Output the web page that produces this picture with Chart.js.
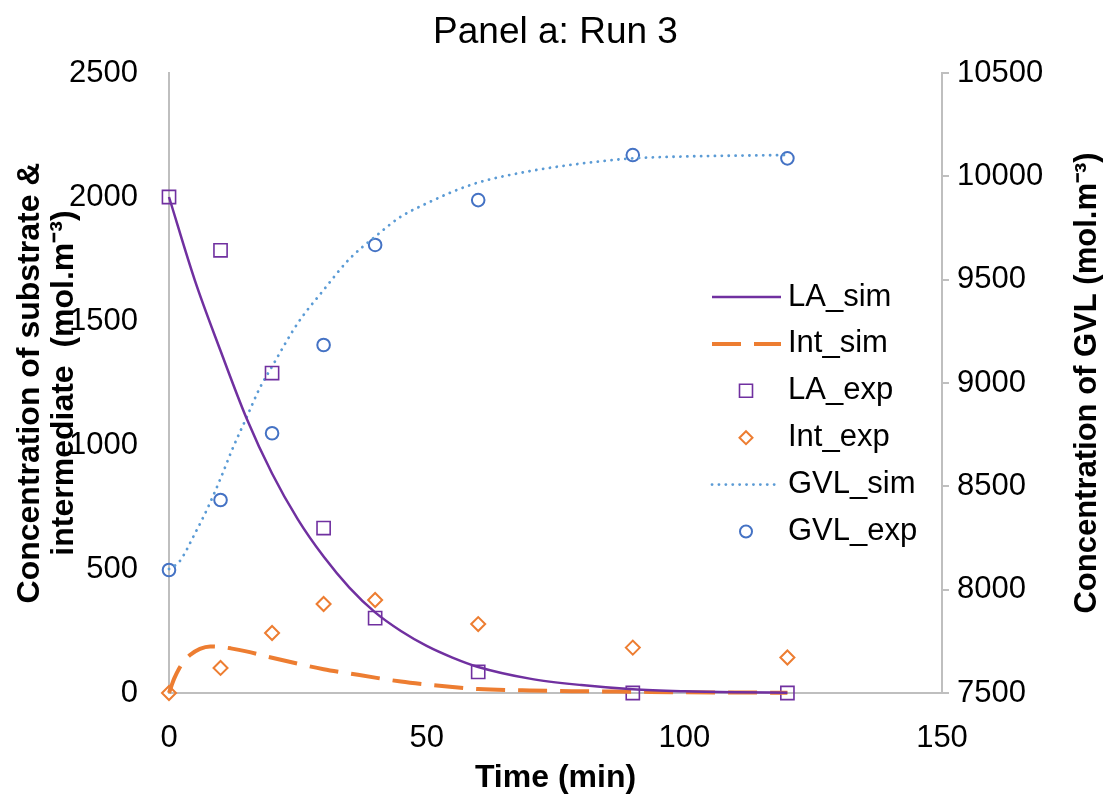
<!DOCTYPE html>
<html>
<head>
<meta charset="utf-8">
<script src="https://cdn.jsdelivr.net/npm/chart.js@4.4.1/dist/chart.umd.min.js"></script>
<style>
html,body{margin:0;padding:0;background:#fff;}
#wrap{width:1104px;height:797px;position:relative;}
</style>
</head>
<body>
<div id="wrap"><canvas id="c"></canvas></div>
<script>
// ---- data ----
const expTimes = [0, 10, 20, 30, 40, 60, 90, 120];
const laExp  = [2000, 1785, 1290, 665, 302, 85, 0, 0];
const intExp = [0, 101, 242, 359, 375, 278, 183, 143];
const gvlExp = [8095, 8434, 8757, 9184, 9668, 9885, 10103, 10087];

const laSimTimes = [0, 5, 10, 15, 20, 25, 30, 35, 40, 45, 50, 55, 60, 70, 80, 90, 100, 110, 120];
const laSim      = [2000, 1665, 1380, 1110, 885, 700, 550, 425, 325, 250, 190, 143, 105, 58, 32, 15, 7, 3, 1];

const intSimTimes = [0, 0.5, 1, 2, 3, 4, 6, 8, 10, 12, 15, 20, 25, 30, 35, 40, 45, 50, 55, 60, 70, 80, 90, 100, 110, 120];
const intSim      = [0, 30, 58, 100, 130, 152, 178, 188, 186, 180, 168, 142, 118, 96, 79, 62, 46, 34, 24, 16, 10, 7, 5, 3, 2, 1];

const gvlSimTimes = [0, 2, 5, 7.5, 10, 12.5, 15, 17.5, 20, 25, 30, 35, 40, 45, 50, 55, 60, 70, 80, 90, 100, 110, 120];
const gvlSim      = [8100, 8135, 8270, 8395, 8538, 8692, 8830, 8970, 9080, 9290, 9450, 9600, 9708, 9805, 9869, 9925, 9970, 10025, 10062, 10087, 10096, 10100, 10103];

const xTicks = [0, 50, 100, 150];
const yLeftTicks = [0, 500, 1000, 1500, 2000, 2500];
const yRightTicks = [7500, 8000, 8500, 9000, 9500, 10000, 10500];

const seriesNames = ['LA_sim', 'Int_sim', 'LA_exp', 'Int_exp', 'GVL_sim', 'GVL_exp'];
const chartTitle = 'Panel a: Run 3';
const xTitle = 'Time (min)';
const yLeftTitle = ['Concentration of substrate &', 'intermediate  (mol.m\u207B\u00B3)'];
const yRightTitle = 'Concentration of GVL (mol.m\u207B\u00B3)';

// ---- helpers ----
const pts = (xs, ys) => xs.map((x, i) => ({x: x, y: ys[i]}));
const plain = v => String(v);
const FONT = "'Liberation Sans', Arial, Helvetica, sans-serif";
const AXIS = '#BFBFBF';
const PURPLE = '#7030A0', ORANGE = '#ED7D31', LBLUE = '#5B9BD5', BLUE = '#4472C4';

Chart.defaults.font.family = FONT;
Chart.defaults.color = '#000';

const legendPlugin = {
  id: 'customLegend',
  afterDraw(chart) {
    const ctx = chart.ctx, ca = chart.chartArea;
    const x0 = ca.left + 543, y0 = ca.top + 224, rowH = 46.9, lineLen = 69, textX = ca.left + 619;
    ctx.save();
    chart.data.datasets.forEach((ds, i) => {
      const y = y0 + i * rowH;
      if (ds.showLine !== false) {
        ctx.beginPath();
        ctx.setLineDash(ds.borderDash || []);
        ctx.lineCap = ds.borderCapStyle || 'butt';
        ctx.strokeStyle = ds.borderColor;
        ctx.lineWidth = ds.borderWidth;
        ctx.moveTo(x0, y);
        ctx.lineTo(x0 + lineLen, y);
        ctx.stroke();
        ctx.setLineDash([]);
      } else {
        const cx = x0 + 34, s = ds.pointStyle;
        ctx.beginPath();
        ctx.strokeStyle = ds.pointBorderColor;
        ctx.lineWidth = ds.pointBorderWidth;
        if (s === 'rect') { ctx.rect(cx - 6.5, y - 6.5, 13, 13); }
        else if (s === 'rectRot') { ctx.moveTo(cx - 6.5, y); ctx.lineTo(cx, y - 6.5); ctx.lineTo(cx + 6.5, y); ctx.lineTo(cx, y + 6.5); ctx.closePath(); }
        else { ctx.arc(cx, y, 6, 0, Math.PI * 2); }
        ctx.stroke();
      }
      ctx.fillStyle = '#000';
      ctx.font = '31px ' + FONT;
      ctx.textAlign = 'left';
      ctx.textBaseline = 'middle';
      ctx.fillText(ds.label, textX, y);
    });
    // right axis title, reading bottom-to-top
    const r = chart.scales.y1;
    ctx.translate(r.right - 17, (ca.top + ca.bottom) / 2);
    ctx.rotate(-Math.PI / 2);
    ctx.font = 'bold 31px ' + FONT;
    ctx.textAlign = 'center';
    ctx.textBaseline = 'middle';
    ctx.fillText(yRightTitle, 0, 0);
    ctx.restore();
  }
};

new Chart(document.getElementById('c'), {
  type: 'line',
  data: {
    datasets: [
      { label: seriesNames[0], data: pts(laSimTimes, laSim), yAxisID: 'y',
        borderColor: PURPLE, borderWidth: 2.5, pointRadius: 0, cubicInterpolationMode: 'monotone', clip: false },
      { label: seriesNames[1], data: pts(intSimTimes, intSim), yAxisID: 'y',
        borderColor: ORANGE, borderWidth: 4, borderDash: [29, 13], pointRadius: 0, cubicInterpolationMode: 'monotone', clip: false },
      { label: seriesNames[2], data: pts(expTimes, laExp), yAxisID: 'y', showLine: false,
        pointStyle: 'rect', pointRadius: 9.3, pointBorderColor: PURPLE, pointBorderWidth: 1.6,
        pointBackgroundColor: 'rgba(0,0,0,0)', borderColor: PURPLE, clip: false },
      { label: seriesNames[3], data: pts(expTimes, intExp), yAxisID: 'y', showLine: false,
        pointStyle: 'rectRot', pointRadius: 7, pointBorderColor: ORANGE, pointBorderWidth: 2,
        pointBackgroundColor: 'rgba(0,0,0,0)', borderColor: ORANGE, clip: false },
      { label: seriesNames[4], data: pts(gvlSimTimes, gvlSim), yAxisID: 'y1',
        borderColor: LBLUE, borderWidth: 2.8, borderDash: [0.1, 6.8], borderCapStyle: 'round',
        pointRadius: 0, cubicInterpolationMode: 'monotone', clip: false },
      { label: seriesNames[5], data: pts(expTimes, gvlExp), yAxisID: 'y1', showLine: false,
        pointStyle: 'circle', pointRadius: 6.3, pointBorderColor: BLUE, pointBorderWidth: 2,
        pointBackgroundColor: 'rgba(0,0,0,0)', borderColor: BLUE, clip: false }
    ]
  },
  options: {
    responsive: true,
    maintainAspectRatio: false,
    animation: false,
    devicePixelRatio: 1,
    events: [],
    layout: { padding: 0 },
    plugins: {
      legend: { display: false },
      tooltip: { enabled: false },
      title: {
        display: true, text: chartTitle, color: '#000', fullSize: false,
        font: { size: 37, weight: 'normal', lineHeight: 1.2 },
        padding: { top: 11, bottom: 17.6 }
      }
    },
    scales: {
      x: {
        type: 'linear', position: 'bottom', min: 0, max: 150,
        afterBuildTicks: s => { s.ticks = xTicks.map(v => ({value: v})); },
        afterFit: s => { s.height = 104; },
        grid: { display: false },
        border: { display: true, color: AXIS, width: 2 },
        ticks: { font: { size: 31 }, color: '#000', padding: 19, maxRotation: 0, callback: plain },
        title: { display: true, text: xTitle, color: '#000', font: { size: 32, weight: 'bold', lineHeight: 1.2 }, padding: { top: 0, bottom: 0 } }
      },
      y: {
        type: 'linear', position: 'left', min: 0, max: 2500,
        afterBuildTicks: s => { s.ticks = yLeftTicks.map(v => ({value: v})); },
        afterFit: s => { s.width = 169; },
        grid: { display: false },
        border: { display: true, color: AXIS, width: 2 },
        ticks: { font: { size: 31 }, color: '#000', padding: 23, callback: plain },
        title: { display: true, text: yLeftTitle, color: '#000', font: { size: 32, weight: 'bold', lineHeight: 1.0625 }, padding: { top: 13, bottom: 0 } }
      },
      y1: {
        type: 'linear', position: 'right', min: 7500, max: 10500,
        afterBuildTicks: s => { s.ticks = yRightTicks.map(v => ({value: v})); },
        afterFit: s => { s.width = 162; },
        grid: { display: true, drawOnChartArea: false, drawTicks: true, tickLength: 7, color: AXIS, lineWidth: 2 },
        border: { display: true, color: AXIS, width: 2 },
        ticks: { font: { size: 31 }, color: '#000', padding: 8, callback: plain },
        title: { display: false }
      }
    }
  },
  plugins: [legendPlugin]
});
</script>
</body>
</html>
